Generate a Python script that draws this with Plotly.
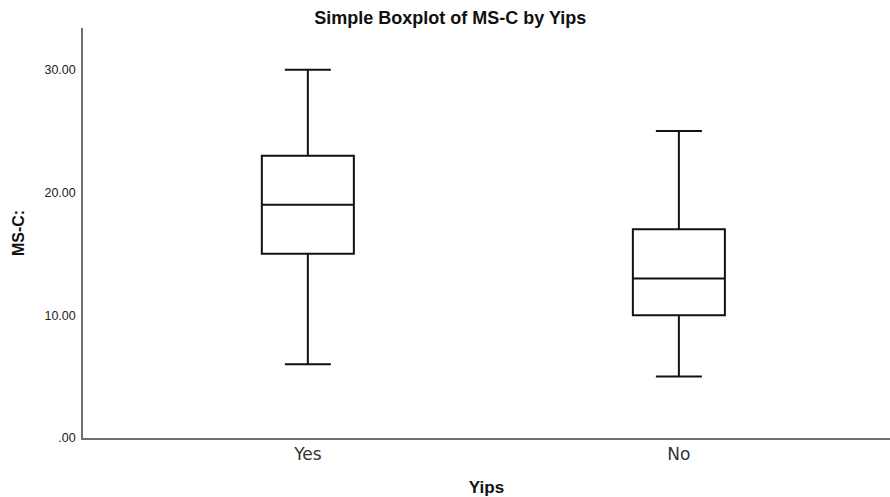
import plotly.graph_objects as go

categories = ["Yes", "No"]
q1 = [15, 10]
median = [19, 13]
q3 = [23, 17]
lower = [6, 5]
upper = [30, 25]
y_ticks = [0, 10, 20, 30]
y_tick_labels = [".00", "10.00", "20.00", "30.00"]

fig = go.Figure()
fig.add_trace(go.Box(
    x=categories, q1=q1, median=median, q3=q3,
    lowerfence=lower, upperfence=upper,
    fillcolor="white", line=dict(color="#111111", width=2),
    whiskerwidth=0.5, width=0.248, boxpoints=False, showlegend=False,
    hoverinfo="skip",
))

fig.update_layout(
    width=890, height=497,
    margin=dict(l=83, r=0, t=28, b=59),
    paper_bgcolor="white", plot_bgcolor="white",
    font=dict(family="Liberation Sans, Arial, sans-serif", color="#222"),
    title=dict(text="<b>Simple Boxplot of MS-C by Yips</b>", x=0.506, xref="container",
               xanchor="center", y=0.964, yref="container", yanchor="middle",
               font=dict(size=18, color="#111")),
    xaxis=dict(type="category", range=[-0.606, 1.569], showline=True,
               linecolor="#707070", linewidth=1.5, ticks="", showgrid=False,
               tickfont=dict(size=17, color="#333", family="DejaVu Sans"),
               title=dict(text="<b>Yips</b>", font=dict(size=17, color="#111"), standoff=21)),
    yaxis=dict(range=[0, 33.4], showline=True, linecolor="#707070", linewidth=1.5,
               tickvals=y_ticks, ticktext=y_tick_labels, ticks="", showgrid=False,
               zeroline=False, tickfont=dict(size=12.5, color="#222"),
               ticklabelstandoff=3,
               title=dict(text="<b>MS-C:</b>", font=dict(size=16, color="#111"), standoff=16)),
)

fig.write_html(
    "out.html",
    config={"displayModeBar": False},
    post_script="document.body.style.margin='0';document.body.style.overflow='hidden';",
)
